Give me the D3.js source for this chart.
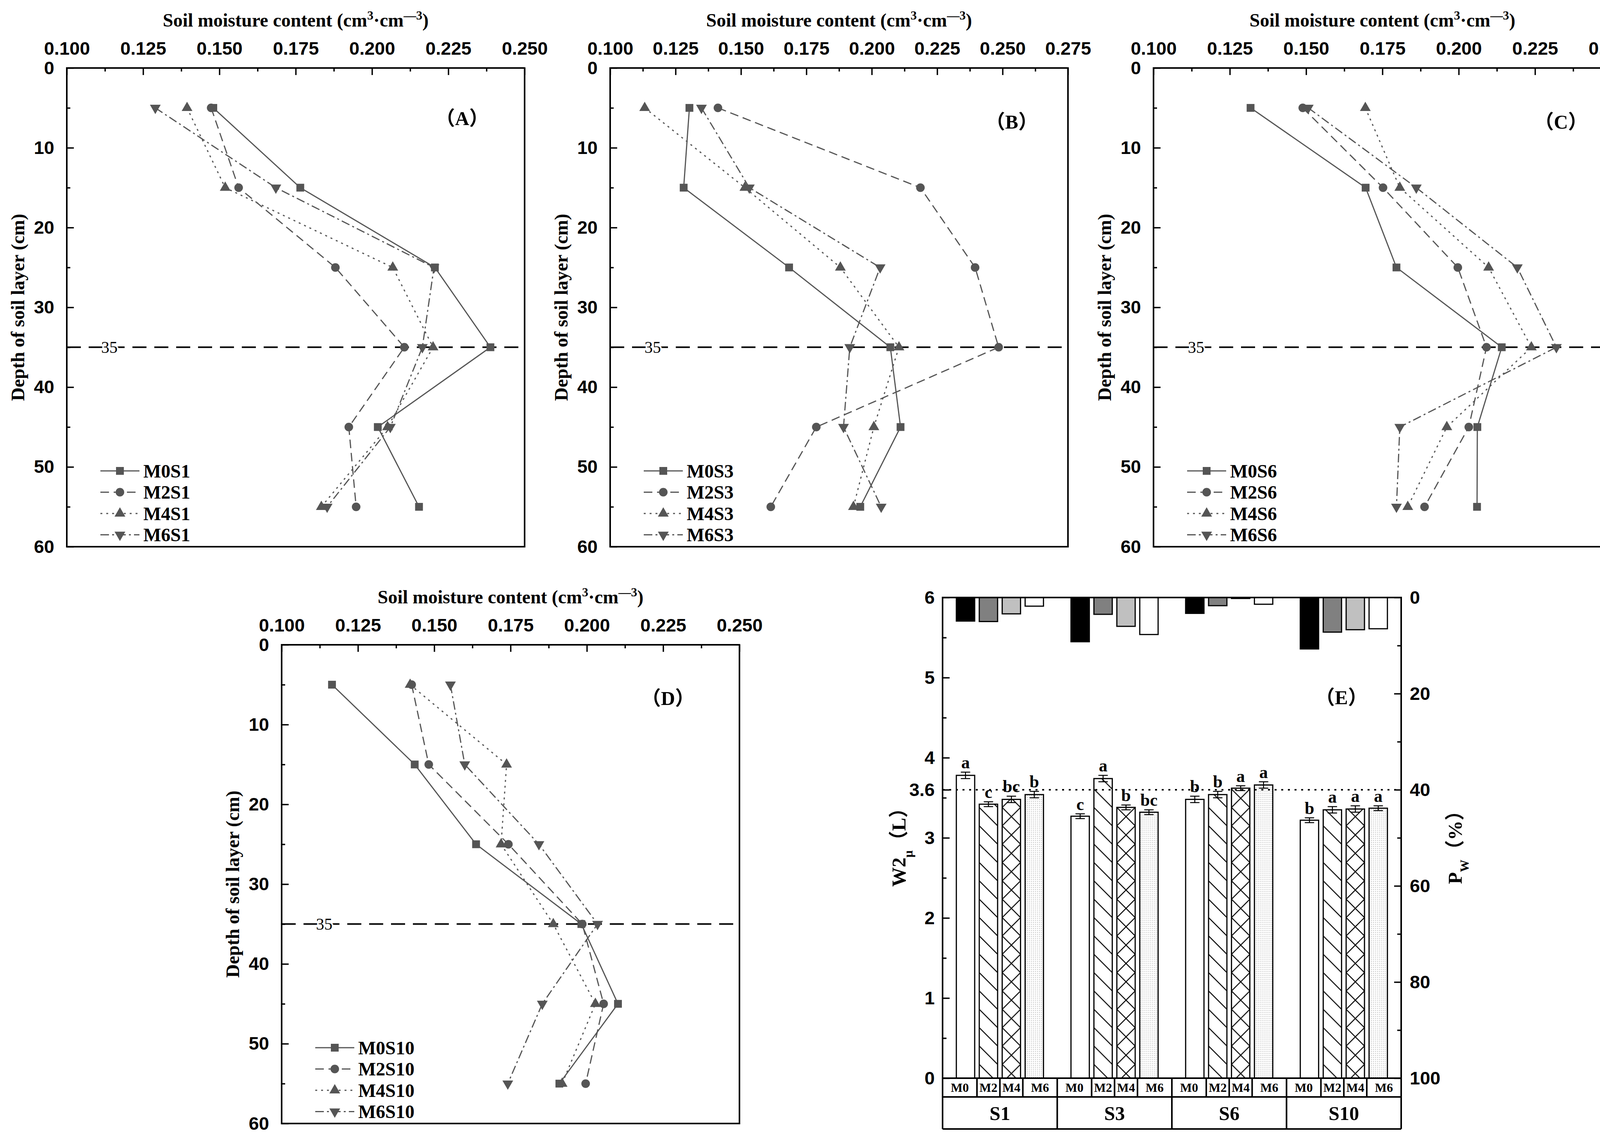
<!DOCTYPE html>
<html>
<head>
<meta charset="utf-8">
<script src="https://cdn.jsdelivr.net/npm/d3@7"></script>
<style>
    html, body { margin: 0; background: #fff; overflow: hidden; }
    svg { display: block; font-family: "Liberation Serif", "Times New Roman", "Noto Sans CJK SC", serif; font-weight: bold; }
</style>
</head>
<body>
<svg id="chart" width="4196" height="2930"></svg>
<script>
// depth of each sampled layer (cm)
const depths = [5, 15, 25, 35, 45, 55];

// (A) S1
const m0s1 = [0.1480, 0.1765, 0.2206, 0.2388, 0.2019, 0.2154];
const m2s1 = [0.1473, 0.1563, 0.1880, 0.2106, 0.1924, 0.1948];
const m4s1 = [0.1394, 0.1519, 0.2068, 0.2200, 0.2051, 0.1834];
const m6s1 = [0.1290, 0.1685, 0.2203, 0.2165, 0.2060, 0.1853];
// (B) S3
const m0s3 = [0.1303, 0.1281, 0.1684, 0.2071, 0.2110, 0.1956];
const m2s3 = [0.1412, 0.2186, 0.2395, 0.2485, 0.1788, 0.1614];
const m4s3 = [0.1132, 0.1515, 0.1880, 0.2104, 0.2008, 0.1930];
const m6s3 = [0.1349, 0.1532, 0.2032, 0.1916, 0.1892, 0.2036];
// (C) S6
const m0s6 = [0.1318, 0.1695, 0.1796, 0.2141, 0.2061, 0.2060];
const m2s6 = [0.1489, 0.1752, 0.1997, 0.2091, 0.2033, 0.1888];
const m4s6 = [0.1694, 0.1807, 0.2098, 0.2238, 0.1961, 0.1833];
const m6s6 = [0.1507, 0.1861, 0.2192, 0.2320, 0.1807, 0.1796];
// (D) S10
const m0s10 = [0.1165, 0.1436, 0.1637, 0.1982, 0.2102, 0.1910];
const m2s10 = [0.1426, 0.1482, 0.1743, 0.1985, 0.2055, 0.1996];
const m4s10 = [0.1421, 0.1737, 0.1719, 0.1890, 0.2028, 0.1919];
const m6s10 = [0.1553, 0.1600, 0.1843, 0.2035, 0.1854, 0.1741];

// (E)
const groups = ['S1', 'S3', 'S6', 'S10'];
const treatments = ['M0', 'M2', 'M4', 'M6'];
const w2Mean = [[3.78, 3.42, 3.48, 3.54], [3.27, 3.74, 3.38, 3.32], [3.48, 3.54, 3.62, 3.66], [3.22, 3.35, 3.36, 3.37]];
const w2Err = [[0.04, 0.03, 0.04, 0.04], [0.03, 0.04, 0.03, 0.03], [0.04, 0.04, 0.03, 0.04], [0.03, 0.04, 0.04, 0.03]];
const w2Letters = [['a', 'c', 'bc', 'b'], ['c', 'a', 'b', 'bc'], ['b', 'b', 'a', 'a'], ['b', 'a', 'a', 'a']];
const pwValues = [[4.9, 5.0, 3.4, 1.8], [9.2, 3.5, 6.0, 7.7], [3.3, 1.7, 0.2, 1.4], [10.7, 7.2, 6.7, 6.5]];
const w2Threshold = 3.6;
const depthLine = 35;

const svg = d3.select('#chart');
const defs = svg.append('defs');
const GREY = '#555555';
const PW = 1172, PH = 1225;
const PAGE_W = 4196;

const dashes = [null, '22,12', '5,10', '22,8,5,8'];
const symbols = [
    { type: d3.symbolSquare, size: 400, rot: 0 },
    { type: d3.symbolCircle, size: 380, rot: 0 },
    { type: d3.symbolTriangle, size: 330, rot: 0 },
    { type: d3.symbolTriangle, size: 330, rot: 180 },
];

function styleAxis(sel, size) {
    sel.select('.domain').remove();
    sel.selectAll('.tick line').attr('stroke', '#000').attr('stroke-width', 3.5);
    sel.selectAll('.tick text').attr('fill', '#000').style('font-size', `${size}px`);
}

function drawProfile(p) {
    const x = d3.scaleLinear().domain([0.1, p.xMax]).range([p.left, p.left + PW]);
    const y = d3.scaleLinear().domain([0, 60]).range([p.top, p.top + PH]);
    const g = svg.append('g');

    const major = d3.range(0, Math.round((p.xMax - 0.1) / 0.025) + 1).map((i) => 0.1 + i * 0.025);
    const minor = major.slice(0, -1).map((d) => d + 0.0125);

    const topAxis = g.append('g').attr('transform', `translate(0,${p.top})`)
        .call(d3.axisTop(x).tickValues(major).tickSize(-18).tickPadding(34).tickFormat(d3.format('.3f')))
        .call(styleAxis, 47);
    // keep the last label inside the page
    topAxis.selectAll('.tick').filter((d) => x(d) + 58 > PAGE_W).select('text').attr('dx', -10);
    g.append('g').attr('transform', `translate(0,${p.top})`)
        .call(d3.axisTop(x).tickValues(minor).tickSize(-9).tickFormat(''))
        .call(styleAxis, 47);
    g.append('g').attr('transform', `translate(${p.left},0)`)
        .call(d3.axisLeft(y).tickValues(d3.range(0, 61, 10)).tickSize(-18).tickPadding(32))
        .call(styleAxis, 47);
    g.append('g').attr('transform', `translate(${p.left},0)`)
        .call(d3.axisLeft(y).tickValues(d3.range(5, 60, 10)).tickSize(-9).tickFormat(''))
        .call(styleAxis, 47);

    // 35 cm reference
    g.append('line')
        .attr('x1', x(0.1)).attr('x2', x(p.xMax))
        .attr('y1', y(depthLine)).attr('y2', y(depthLine))
        .attr('stroke', '#000').attr('stroke-width', 4).attr('stroke-dasharray', '36,20');
    g.append('text')
        .attr('x', p.left + 109).attr('y', y(depthLine)).attr('dy', '0.35em')
        .attr('text-anchor', 'middle').style('font-size', '42px').style('font-weight', 'normal')
        .attr('stroke', '#fff').attr('stroke-width', 8).attr('paint-order', 'stroke')
        .text(depthLine);

    const line = d3.line().x((d) => x(d.v)).y((d) => y(d.depth));
    p.series.forEach((vals, i) => {
        const data = vals.map((v, j) => ({ v, depth: depths[j] }));
        g.append('path').datum(data)
            .attr('fill', 'none').attr('stroke', GREY).attr('stroke-width', 3)
            .attr('stroke-dasharray', dashes[i]).attr('d', line);
        const s = symbols[i];
        g.selectAll(null).data(data).enter().append('path')
            .attr('d', d3.symbol().type(s.type).size(s.size))
            .attr('transform', (d) => `translate(${x(d.v)},${y(d.depth)}) rotate(${s.rot})`)
            .attr('fill', GREY);
    });

    // frame
    g.append('rect').attr('x', p.left).attr('y', p.top).attr('width', PW).attr('height', PH)
        .attr('fill', 'none').attr('stroke', '#000').attr('stroke-width', 4);

    // legend
    p.names.forEach((name, i) => {
        const ly = p.top + 1031 + 54.5 * i;
        const lg = g.append('g');
        lg.append('line').attr('x1', p.left + 86).attr('x2', p.left + 186).attr('y1', ly).attr('y2', ly)
            .attr('stroke', GREY).attr('stroke-width', 3).attr('stroke-dasharray', dashes[i]);
        const s = symbols[i];
        lg.append('path').attr('d', d3.symbol().type(s.type).size(s.size))
            .attr('transform', `translate(${p.left + 136},${ly}) rotate(${s.rot})`).attr('fill', GREY);
        lg.append('text').attr('x', p.left + 196).attr('y', ly).attr('dy', '0.35em')
            .style('font-size', '48px').text(name);
    });

    // titles
    const t = g.append('text').attr('x', p.left + PW / 2).attr('y', p.top - 106)
        .attr('text-anchor', 'middle').style('font-size', '48px');
    t.append('tspan').text('Soil moisture content (cm');
    t.append('tspan').attr('baseline-shift', 'super').style('font-size', '32px').text('3');
    t.append('tspan').text('·cm');
    t.append('tspan').attr('baseline-shift', 'super').style('font-size', '32px').text('—3');
    t.append('tspan').text(')');

    g.append('text')
        .attr('transform', `translate(${p.left - 126},${p.top + PH / 2}) rotate(-90)`)
        .attr('text-anchor', 'middle').attr('dy', '0.35em').style('font-size', '48px')
        .text('Depth of soil layer (cm)');

    g.append('text').attr('x', p.labelX).attr('y', p.labelY).attr('dy', '0.35em')
        .attr('text-anchor', 'middle').style('font-size', '50px').text(p.label);
}

drawProfile({ left: 171, top: 174, xMax: 0.25, series: [m0s1, m2s1, m4s1, m6s1],
    names: ['M0S1', 'M2S1', 'M4S1', 'M6S1'], label: '（A）', labelX: 1183, labelY: 302 });
drawProfile({ left: 1562, top: 174, xMax: 0.275, series: [m0s3, m2s3, m4s3, m6s3],
    names: ['M0S3', 'M2S3', 'M4S3', 'M6S3'], label: '（B）', labelX: 2590, labelY: 311 });
drawProfile({ left: 2953, top: 174, xMax: 0.25, series: [m0s6, m2s6, m4s6, m6s6],
    names: ['M0S6', 'M2S6', 'M4S6', 'M6S6'], label: '（C）', labelX: 3996, labelY: 311 });
drawProfile({ left: 721, top: 1650, xMax: 0.25, series: [m0s10, m2s10, m4s10, m6s10],
    names: ['M0S10', 'M2S10', 'M4S10', 'M6S10'], label: '（D）', labelX: 1710, labelY: 1786 });

// ---- panel E ----
const eLeft = 2413, eRight = 3587, eTop = 1529, eZero = 2759;
const xGroup = d3.scaleBand().domain(groups).range([eLeft, eRight]).padding(0);
const gw = xGroup.bandwidth();
const xInner = d3.scaleLinear().domain([0, 5]).range([0, gw]);
const barW = xInner(0.8);
const yW = d3.scaleLinear().domain([0, 6]).range([eZero, eTop]);
const yP = d3.scaleLinear().domain([0, 100]).range([eTop, eZero]);
const eg = svg.append('g');

const bars = [];
groups.forEach((grp, gi) => {
    treatments.forEach((tr, ti) => {
        bars.push({ grp, gi, tr, ti, cx: xGroup(grp) + xInner(ti + 1),
            w2: w2Mean[gi][ti], err: w2Err[gi][ti], letter: w2Letters[gi][ti], pw: pwValues[gi][ti] });
    });
});

// fill patterns, aligned with each bar
const dots = defs.append('pattern').attr('id', 'dots').attr('patternUnits', 'userSpaceOnUse')
    .attr('width', 5).attr('height', 5);
dots.append('rect').attr('width', 5).attr('height', 5).attr('fill', '#fff');
dots.append('rect').attr('width', 2).attr('height', 2).attr('fill', '#b8b8b8');
bars.forEach((b, i) => {
    if (b.ti === 1 || b.ti === 2) {
        const pat = defs.append('pattern').attr('id', `hatch${i}`).attr('patternUnits', 'userSpaceOnUse')
            .attr('x', b.cx - barW / 2).attr('y', 0).attr('width', barW).attr('height', barW);
        pat.append('rect').attr('width', barW).attr('height', barW).attr('fill', '#fff');
        pat.append('path').attr('d', `M-4,-4L${barW + 4},${barW + 4}`)
            .attr('stroke', '#000').attr('stroke-width', 2.5);
        if (b.ti === 2) {
            pat.append('path').attr('d', `M${barW + 4},-4L-4,${barW + 4}`)
                .attr('stroke', '#000').attr('stroke-width', 2.5);
        }
    }
});
const fillFor = (b, i) => (b.ti === 0 ? '#fff' : b.ti === 3 ? 'url(#dots)' : `url(#hatch${i})`);

eg.selectAll('.w2bar').data(bars).enter().append('rect')
    .attr('x', (d) => d.cx - barW / 2).attr('width', barW)
    .attr('y', (d) => yW(d.w2)).attr('height', (d) => yW(0) - yW(d.w2))
    .attr('fill', fillFor).attr('stroke', '#000').attr('stroke-width', 3);

const pwFill = ['#000', '#808080', '#c0c0c0', '#fff'];
eg.selectAll('.pwbar').data(bars).enter().append('rect')
    .attr('x', (d) => d.cx - barW / 2).attr('width', barW)
    .attr('y', yP(0)).attr('height', (d) => yP(d.pw) - yP(0))
    .attr('fill', (d) => pwFill[d.ti]).attr('stroke', '#000').attr('stroke-width', 3);

// error bars
const eb = eg.selectAll('.err').data(bars).enter().append('g').attr('stroke', '#000').attr('stroke-width', 2.5);
eb.append('line').attr('x1', (d) => d.cx).attr('x2', (d) => d.cx)
    .attr('y1', (d) => yW(d.w2 - d.err)).attr('y2', (d) => yW(d.w2 + d.err));
eb.append('line').attr('x1', (d) => d.cx - 12).attr('x2', (d) => d.cx + 12)
    .attr('y1', (d) => yW(d.w2 + d.err)).attr('y2', (d) => yW(d.w2 + d.err));
eb.append('line').attr('x1', (d) => d.cx - 12).attr('x2', (d) => d.cx + 12)
    .attr('y1', (d) => yW(d.w2 - d.err)).attr('y2', (d) => yW(d.w2 - d.err));

eg.selectAll('.letter').data(bars).enter().append('text')
    .attr('x', (d) => d.cx).attr('y', (d) => yW(d.w2 + d.err) - 10)
    .attr('text-anchor', 'middle').style('font-size', '44px').text((d) => d.letter);

// 3.6 threshold
eg.append('line').attr('x1', eLeft).attr('x2', eRight).attr('y1', yW(w2Threshold)).attr('y2', yW(w2Threshold))
    .attr('stroke', '#000').attr('stroke-width', 4).attr('stroke-dasharray', '5,12');

// axes
eg.append('g').attr('transform', `translate(${eLeft},0)`)
    .call(d3.axisLeft(yW).tickValues([0, 1, 2, 3, 3.6, 4, 5, 6]).tickSize(-18).tickPadding(20).tickFormat((d) => d))
    .call(styleAxis, 47);
eg.append('g').attr('transform', `translate(${eLeft},0)`)
    .call(d3.axisLeft(yW).tickValues(d3.range(0.5, 6, 1)).tickSize(-10).tickFormat(''))
    .call(styleAxis, 47);
eg.append('g').attr('transform', `translate(${eRight},0)`)
    .call(d3.axisRight(yP).tickValues(d3.range(0, 101, 20)).tickSize(-18).tickPadding(22))
    .call(styleAxis, 47);
eg.append('g').attr('transform', `translate(${eRight},0)`)
    .call(d3.axisRight(yP).tickValues(d3.range(10, 100, 20)).tickSize(-10).tickFormat(''))
    .call(styleAxis, 47);

// frame and category table
const row1 = eZero + 48, row2 = eZero + 130;
const frame = eg.append('g').attr('stroke', '#000').attr('stroke-width', 4).attr('fill', 'none');
frame.append('path').attr('d', `M${eLeft},${row2}V${eTop}H${eRight}V${row2}`);
[eZero, row1, row2].forEach((yy) => frame.append('line').attr('x1', eLeft).attr('x2', eRight).attr('y1', yy).attr('y2', yy));
groups.forEach((grp) => {
    const gx = xGroup(grp);
    [1.5, 2.5, 3.5].forEach((k) => frame.append('line')
        .attr('x1', gx + xInner(k)).attr('x2', gx + xInner(k)).attr('y1', eZero).attr('y2', row1));
    frame.append('line').attr('x1', gx + gw).attr('x2', gx + gw).attr('y1', eZero).attr('y2', row2);
    eg.append('text').attr('x', gx + gw / 2).attr('y', (row1 + row2) / 2).attr('dy', '0.35em')
        .attr('text-anchor', 'middle').style('font-size', '50px').text(grp);
});
const cellEdges = [0, 1.5, 2.5, 3.5, 5];
bars.forEach((b) => {
    const gx = xGroup(b.grp);
    const mid = gx + (xInner(cellEdges[b.ti]) + xInner(cellEdges[b.ti + 1])) / 2;
    eg.append('text').attr('x', mid).attr('y', (eZero + row1) / 2).attr('dy', '0.35em')
        .attr('text-anchor', 'middle').style('font-size', '32px').text(b.tr);
});

// axis titles
const lt = eg.append('text').attr('transform', `translate(2300,${(eTop + eZero) / 2 + 12}) rotate(-90)`)
    .attr('text-anchor', 'middle').attr('dy', '0.35em').style('font-size', '50px');
lt.append('tspan').text('W2');
lt.append('tspan').attr('baseline-shift', 'sub').style('font-size', '32px').text('μ');
lt.append('tspan').text('（L）');
const rt = eg.append('text').attr('transform', `translate(3724,${(eTop + eZero) / 2 + 12}) rotate(-90)`)
    .attr('text-anchor', 'middle').attr('dy', '0.35em').style('font-size', '50px');
rt.append('tspan').text('P');
rt.append('tspan').attr('baseline-shift', 'sub').style('font-size', '32px').text('W');
rt.append('tspan').text('（%）');

eg.append('text').attr('x', 3434).attr('y', 1784).attr('dy', '0.35em')
    .attr('text-anchor', 'middle').style('font-size', '50px').text('（E）');
</script>
</body>
</html>
